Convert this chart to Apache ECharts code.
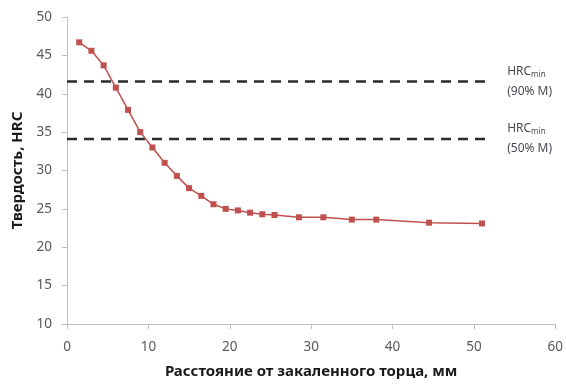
<!DOCTYPE html>
<html><head><meta charset="utf-8">
<script src="https://cdn.jsdelivr.net/npm/echarts@6/dist/echarts.min.js"></script>
<style>html,body{margin:0;padding:0;background:#fff}#c{width:566px;height:389px}</style>
</head><body><div id="c"></div>
<script>
const distances = [1.5, 3, 4.5, 6, 7.5, 9, 10.5, 12, 13.5, 15, 16.5, 18, 19.5, 21, 22.5, 24, 25.5, 28.5, 31.5, 35, 38, 44.5, 51];
const hardness = [46.7, 45.6, 43.7, 40.8, 37.9, 35.0, 33.0, 31.0, 29.3, 27.7, 26.7, 25.6, 25.0, 24.8, 24.5, 24.3, 24.2, 23.9, 23.9, 23.6, 23.6, 23.2, 23.1];
const hrc90 = 41.6;
const hrc50 = 34.1;
const limitRange = [0, 52];
const xTicks = [0, 10, 20, 30, 40, 50, 60];
const yTicks = [10, 15, 20, 25, 30, 35, 40, 45, 50];

const font = 'Noto Sans';
const chart = echarts.init(document.getElementById('c'));
function limitSeries(v, label1, label2) {
  return {
    type: 'line', data: limitRange.map(x => [x, v]), symbol: 'none', silent: true,
    lineStyle: { color: '#2b2b2b', width: 2.5, type: [10, 7] },
    endLabel: {
      show: true, distance: 17, align: 'left',
      formatter: () => '{a|HRC}{s|min}\n{a|' + label2 + '}',
      rich: {
        a: { fontFamily: font, fontSize: 12, color: '#4a4a55', lineHeight: 20 },
        s: { fontFamily: font, fontSize: 8, color: '#4a4a55', padding: [6, 0, 0, 0], lineHeight: 20 }
      }
    },
    z: 1
  };
}
chart.setOption({
  animation: false,
  grid: { left: 67, right: 9, top: 17, bottom: 65 },
  xAxis: {
    type: 'value', min: 0, max: 60, interval: 10,
    name: 'Расстояние от закаленного торца, мм', nameLocation: 'middle', nameGap: 40,
    nameTextStyle: { fontFamily: font, fontSize: 15, fontWeight: 'bold', color: '#1a1a1a' },
    axisLine: { show: true, lineStyle: { color: '#bfbfbf', width: 1 } },
    axisTick: { show: true, length: 5, lineStyle: { color: '#bfbfbf' } },
    axisLabel: { fontFamily: font, fontSize: 13.5, color: '#595959', margin: 16 },
    splitLine: { show: false }
  },
  yAxis: {
    type: 'value', min: 10, max: 50, interval: 5,
    name: 'Твердость, HRC', nameLocation: 'middle', nameGap: 38, nameRotate: 90,
    nameTextStyle: { fontFamily: font, fontSize: 15, fontWeight: 'bold', color: '#1a1a1a' },
    axisLine: { show: true, lineStyle: { color: '#bfbfbf', width: 1 } },
    axisTick: { show: true, length: 5, lineStyle: { color: '#bfbfbf' } },
    axisLabel: { fontFamily: font, fontSize: 13.5, color: '#595959', margin: 15 },
    splitLine: { show: false }
  },
  series: [
    limitSeries(hrc90, 'HRC', '(90% M)'),
    limitSeries(hrc50, 'HRC', '(50% M)'),
    {
      type: 'line', data: distances.map((d, i) => [d, hardness[i]]),
      symbol: 'rect', symbolSize: 6, showAllSymbol: true,
      lineStyle: { color: '#c0504d', width: 1.5 },
      itemStyle: { color: '#c0504d' }, z: 3
    }
  ]
});
</script></body></html>
